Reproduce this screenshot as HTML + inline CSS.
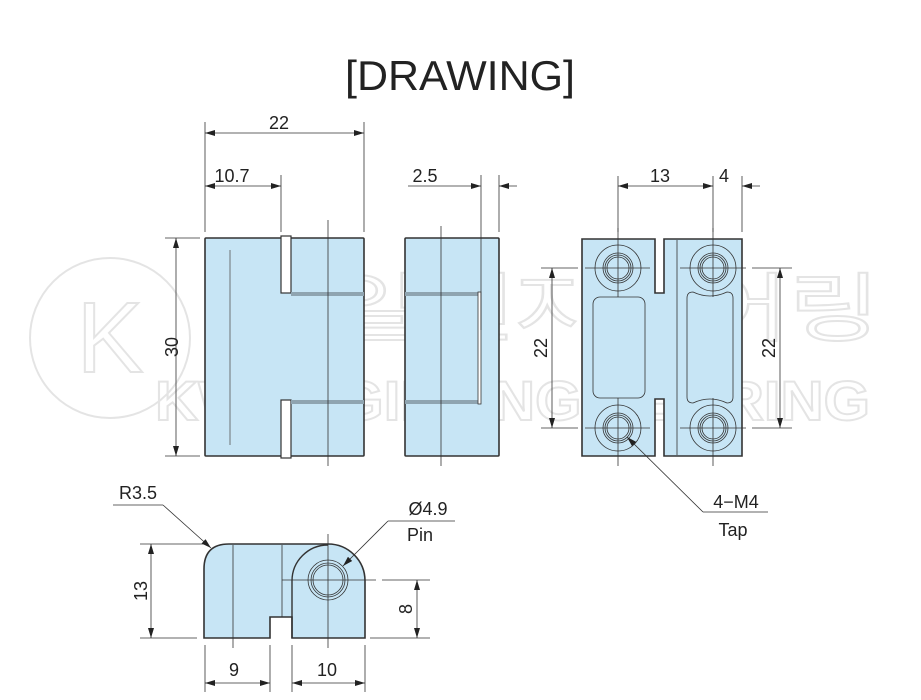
<!DOCTYPE html>
<html><head><meta charset="utf-8"><style>
html,body{margin:0;padding:0;background:#fff;}
svg{display:block;}
text{font-family:"Liberation Sans","Noto Sans CJK KR",sans-serif;}
</style></head><body>
<svg width="921" height="700" viewBox="0 0 921 700" xmlns="http://www.w3.org/2000/svg">
<defs>
<marker id="a" viewBox="0 0 10 6" refX="10" refY="3" markerWidth="11" markerHeight="6" orient="auto-start-reverse" markerUnits="userSpaceOnUse"><path d="M0,0 L10,3 L0,6 Z" fill="#222"/></marker>
</defs>
<rect width="921" height="700" fill="#fff"/>
<text x="460" y="90" font-size="42" text-anchor="middle" fill="#222" textLength="230" lengthAdjust="spacingAndGlyphs">[DRAWING]</text>

<!-- watermark -->
<g opacity="0.22" fill="none" stroke="#888" stroke-width="2">
<circle cx="110" cy="338" r="80"/>
<text x="110" y="372" font-size="100" text-anchor="middle">K</text>
<text x="240" y="335" font-size="75" textLength="640" lengthAdjust="spacingAndGlyphs">광일엔지니어링</text>
<text x="155" y="420" font-size="56" font-weight="bold" textLength="715" lengthAdjust="spacingAndGlyphs">KWANGIL ENGINEERING</text>
</g>

<!-- front view body -->
<rect x="205" y="238" width="159" height="218" rx="1" fill="#c7e5f5" stroke="#333" stroke-width="1.6"/>
<g fill="#fff" stroke="#333" stroke-width="1.2">
<rect x="281" y="236" width="10" height="57"/>
<rect x="281" y="400" width="10" height="58"/>
</g>
<rect x="291" y="292" width="73" height="4" fill="#8fa4b0"/>
<rect x="291" y="400" width="73" height="4" fill="#8fa4b0"/>
<line x1="230" y1="250" x2="230" y2="445" stroke="#555" stroke-width="0.8"/>
<line x1="328" y1="220" x2="328" y2="466" stroke="#333" stroke-width="0.8"/>

<!-- side view -->
<rect x="405" y="238" width="94" height="218" rx="1" fill="#c7e5f5" stroke="#333" stroke-width="1.6"/>
<rect x="405" y="292" width="76" height="4" fill="#8fa4b0"/>
<rect x="405" y="400" width="76" height="4" fill="#8fa4b0"/>
<rect x="478" y="292" width="3" height="112" fill="#fff" stroke="#333" stroke-width="0.8"/>
<line x1="441" y1="226" x2="441" y2="466" stroke="#333" stroke-width="0.8"/>

<!-- right view -->
<path d="M582,239 H655 V293 H664 V239 H742 V456 H664 V399 H655 V456 H582 Z" fill="#c7e5f5" stroke="#333" stroke-width="1.6"/>
<g stroke="#333" stroke-width="0.8" fill="none">
<line x1="677" y1="240" x2="677" y2="455"/>
<rect x="593" y="297" width="52" height="101" rx="7"/>
<path d="M687,298 Q687,292 693,292 Q710,300 727,292 Q733,292 733,298 V397 Q733,403 727,403 Q710,395 693,403 Q687,403 687,397 Z"/>
<circle cx="618" cy="268" r="23"/><circle cx="618" cy="268" r="15"/><circle cx="618" cy="268" r="13"/><circle cx="618" cy="268" r="11"/>
<circle cx="713" cy="268" r="23"/><circle cx="713" cy="268" r="15"/><circle cx="713" cy="268" r="13"/><circle cx="713" cy="268" r="11"/>
<circle cx="618" cy="428" r="23"/><circle cx="618" cy="428" r="15"/><circle cx="618" cy="428" r="13"/><circle cx="618" cy="428" r="11"/>
<circle cx="713" cy="428" r="23"/><circle cx="713" cy="428" r="15"/><circle cx="713" cy="428" r="13"/><circle cx="713" cy="428" r="11"/>
<line x1="618" y1="228" x2="618" y2="297"/><line x1="618" y1="398" x2="618" y2="466"/>
<line x1="713" y1="228" x2="713" y2="297"/><line x1="713" y1="398" x2="713" y2="466"/>
<line x1="585" y1="268" x2="650" y2="268"/><line x1="680" y1="268" x2="746" y2="268"/>
<line x1="585" y1="428" x2="650" y2="428"/><line x1="680" y1="428" x2="746" y2="428"/>
</g>

<!-- bottom view -->
<path d="M204,638 V569 Q204,544 229,544 H328 A37,37 0 0 1 365,581 V638 H292 V617 H270 V638 Z" fill="#c7e5f5" stroke="#333" stroke-width="1.6"/>
<g stroke="#333" stroke-width="0.8" fill="none">
<line x1="282" y1="545" x2="282" y2="617"/>
<path d="M292,638 V581 A36,36 0 0 1 328,545" stroke-width="1.4"/>
<line x1="233" y1="545" x2="233" y2="648"/>
<line x1="328" y1="534" x2="328" y2="648"/>
<line x1="282" y1="580" x2="376" y2="580"/>
<circle cx="328" cy="580" r="20"/><circle cx="328" cy="580" r="17"/><circle cx="328" cy="580" r="15"/>
</g>

<g stroke="#333" stroke-width="0.8" fill="none">
<!-- front view dims -->
<line x1="205" y1="122" x2="205" y2="232"/>
<line x1="364" y1="122" x2="364" y2="232"/>
<line x1="281" y1="175" x2="281" y2="232"/>
<line x1="205" y1="133" x2="364" y2="133" marker-start="url(#a)" marker-end="url(#a)"/>
<line x1="205" y1="186" x2="281" y2="186" marker-start="url(#a)" marker-end="url(#a)"/>
<line x1="165" y1="238" x2="200" y2="238"/>
<line x1="165" y1="456" x2="200" y2="456"/>
<line x1="176" y1="238" x2="176" y2="456" marker-start="url(#a)" marker-end="url(#a)"/>
<!-- side dims -->
<line x1="481" y1="175" x2="481" y2="330"/>
<line x1="499" y1="175" x2="499" y2="232"/>
<line x1="408" y1="186" x2="481" y2="186" marker-end="url(#a)"/>
<line x1="517" y1="186" x2="499" y2="186" marker-end="url(#a)"/>
<!-- right view dims -->
<line x1="618" y1="176" x2="618" y2="232"/>
<line x1="713" y1="176" x2="713" y2="232"/>
<line x1="742" y1="176" x2="742" y2="232"/>
<line x1="618" y1="186" x2="713" y2="186" marker-start="url(#a)" marker-end="url(#a)"/>
<line x1="760" y1="186" x2="742" y2="186" marker-end="url(#a)"/>
<line x1="541" y1="268" x2="578" y2="268"/>
<line x1="541" y1="428" x2="578" y2="428"/>
<line x1="552" y1="268" x2="552" y2="428" marker-start="url(#a)" marker-end="url(#a)"/>
<line x1="752" y1="268" x2="792" y2="268"/>
<line x1="752" y1="428" x2="792" y2="428"/>
<line x1="780" y1="268" x2="780" y2="428" marker-start="url(#a)" marker-end="url(#a)"/>
<line x1="768" y1="512" x2="703" y2="512"/>
<line x1="703" y1="512" x2="627" y2="437" marker-end="url(#a)"/>
<!-- bottom view dims -->
<line x1="140" y1="544" x2="205" y2="544"/>
<line x1="140" y1="638" x2="197" y2="638"/>
<line x1="151" y1="544" x2="151" y2="638" marker-start="url(#a)" marker-end="url(#a)"/>
<line x1="382" y1="580" x2="430" y2="580"/>
<line x1="370" y1="638" x2="430" y2="638"/>
<line x1="417" y1="580" x2="417" y2="638" marker-start="url(#a)" marker-end="url(#a)"/>
<line x1="205" y1="645" x2="205" y2="692"/>
<line x1="270" y1="645" x2="270" y2="692"/>
<line x1="292" y1="645" x2="292" y2="692"/>
<line x1="365" y1="645" x2="365" y2="692"/>
<line x1="205" y1="683" x2="270" y2="683" marker-start="url(#a)" marker-end="url(#a)"/>
<line x1="292" y1="683" x2="365" y2="683" marker-start="url(#a)" marker-end="url(#a)"/>
<line x1="113" y1="505" x2="163" y2="505"/>
<line x1="163" y1="505" x2="211" y2="548" marker-end="url(#a)"/>
<line x1="455" y1="521" x2="388" y2="521"/>
<line x1="388" y1="521" x2="343" y2="566" marker-end="url(#a)"/>
</g>

<!-- labels -->
<g fill="#222" font-size="18">
<text x="279" y="129" text-anchor="middle">22</text>
<text x="232" y="182" text-anchor="middle">10.7</text>
<text x="425" y="182" text-anchor="middle">2.5</text>
<text x="660" y="182" text-anchor="middle">13</text>
<text x="724" y="182" text-anchor="middle">4</text>
<text transform="translate(178,347) rotate(-90)" text-anchor="middle">30</text>
<text transform="translate(547,348) rotate(-90)" text-anchor="middle">22</text>
<text transform="translate(775,348) rotate(-90)" text-anchor="middle">22</text>
<text x="736" y="508" text-anchor="middle">4−M4</text>
<text x="733" y="536" text-anchor="middle">Tap</text>
<text x="138" y="499" text-anchor="middle">R3.5</text>
<text x="428" y="515" text-anchor="middle">Ø4.9</text>
<text x="420" y="541" text-anchor="middle">Pin</text>
<text transform="translate(147,591) rotate(-90)" text-anchor="middle">13</text>
<text transform="translate(412,609) rotate(-90)" text-anchor="middle">8</text>
<text x="234" y="676" text-anchor="middle">9</text>
<text x="327" y="676" text-anchor="middle">10</text>
</g>
</svg>
</body></html>
